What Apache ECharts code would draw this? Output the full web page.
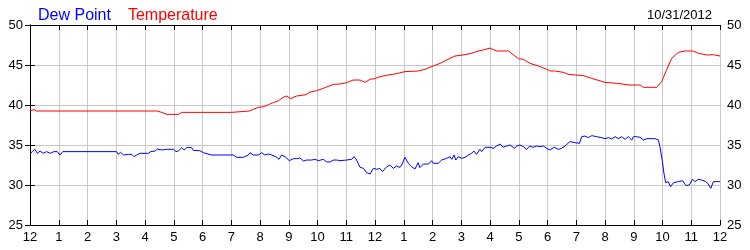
<!DOCTYPE html>
<html>
<head>
<meta charset="utf-8">
<script src="https://cdn.jsdelivr.net/npm/echarts@6/dist/echarts.min.js"></script>
<style>html,body{margin:0;padding:0;background:#fff}#c{width:750px;height:250px}</style>
</head>
<body>
<div id="c"></div>
<script>
var hourLabels = ['12','1','2','3','4','5','6','7','8','9','10','11','12','1','2','3','4','5','6','7','8','9','10','11','12'];
var yTicks = [25, 30, 35, 40, 45, 50];
var dateLabel = '10/31/2012';

var tempHours = [0,0.14,0.23,4.41,4.58,4.75,5.16,5.28,7.01,7.07,7.63,7.77,7.94,8.12,8.29,8.46,8.64,8.81,8.93,9.07,9.27,9.6,9.74,9.97,10.2,10.55,10.78,11.01,11.24,11.48,11.65,11.83,12.0,12.17,12.46,12.7,13.04,13.51,13.74,14.03,14.26,14.49,14.78,15.13,15.36,15.59,15.77,16.0,16.23,16.64,16.99,17.16,17.39,17.68,17.97,18.09,18.26,18.55,18.73,19.25,19.54,20.0,20.41,20.87,21.22,21.33,21.8,21.97,22.14,22.32,22.55,22.78,23.07,23.25,23.54,23.77,24.0];
var tempValues = [39.25,39.42,39.25,39.25,39.08,38.83,38.83,39.08,39.08,39.25,39.25,39.46,39.7,39.79,40.04,40.29,40.54,40.96,41.12,40.79,41.12,41.29,41.62,41.79,42.08,42.58,42.62,42.79,43.12,43.12,42.83,43.21,43.3,43.54,43.75,43.88,44.17,44.25,44.46,44.88,45.2,45.62,46.12,46.29,46.46,46.75,46.88,47.12,46.75,46.75,45.79,45.71,45.2,44.88,44.46,44.25,44.25,44.08,43.83,43.67,43.33,42.83,42.71,42.5,42.5,42.21,42.21,42.92,44.38,45.83,46.58,46.75,46.75,46.46,46.25,46.29,46.12];

var dewHours = [0,0.09,0.17,0.26,0.35,0.46,0.58,0.7,0.83,0.95,1.04,1.14,3.01,3.07,3.15,3.25,3.42,3.54,3.62,3.71,3.83,4.12,4.2,4.35,4.43,4.58,4.75,4.99,5.08,5.16,5.28,5.36,5.45,5.62,5.68,5.91,6.03,6.32,7.07,7.19,7.42,7.6,7.65,7.77,7.94,8.06,8.17,8.29,8.41,8.58,8.66,8.75,8.87,9.02,9.16,9.27,9.39,9.51,9.62,9.8,9.91,10.03,10.2,10.32,10.44,10.55,10.67,10.78,11.01,11.19,11.27,11.36,11.48,11.6,11.71,11.83,11.94,12.06,12.17,12.26,12.41,12.52,12.64,12.75,12.87,12.93,13.04,13.16,13.27,13.39,13.5,13.56,13.68,13.86,13.97,14.03,14.2,14.32,14.49,14.61,14.67,14.75,14.81,14.9,15.02,15.13,15.25,15.36,15.44,15.53,15.65,15.71,15.83,16.0,16.12,16.23,16.35,16.46,16.58,16.7,16.75,16.85,16.93,17.04,17.16,17.27,17.39,17.5,17.62,17.74,17.86,17.97,18.09,18.23,18.38,18.49,18.61,18.78,18.96,19.11,19.19,19.3,19.42,19.54,19.71,19.88,20.0,20.12,20.23,20.35,20.46,20.58,20.7,20.81,20.93,20.99,21.1,21.22,21.33,21.45,21.74,21.86,21.91,21.99,22.05,22.11,22.2,22.28,22.38,22.55,22.7,22.82,22.93,23.05,23.13,23.25,23.36,23.51,23.59,23.68,23.77,23.94,24.0];
var dewValues = [33.96,34.17,34.46,33.96,34.25,33.96,34.17,33.96,34.17,34.17,33.75,34.17,34.17,33.83,34.08,33.75,33.83,33.83,33.54,33.75,33.96,33.96,34.17,34.25,34.5,34.38,34.46,34.46,34.17,34.25,34.67,34.38,34.67,34.67,34.33,34.29,34.04,33.75,33.75,33.46,33.46,33.75,34.04,33.75,33.75,34.04,33.75,33.88,33.75,33.46,33.21,33.75,33.54,33.04,33.29,33.29,33.38,33.0,33.12,33.12,33.21,33.04,33.21,32.88,32.88,33.12,33.12,33.04,33.12,33.21,33.54,33.12,32.21,32.08,31.54,31.38,32.08,31.96,32.08,31.67,32.29,32.5,32.08,32.38,32.2,32.5,33.46,32.71,32.29,32.0,32.79,32.17,32.62,32.62,33.04,32.71,32.71,33.12,33.33,33.54,33.2,33.75,33.12,33.54,33.33,33.46,33.75,33.96,34.25,33.83,34.46,34.17,34.71,34.71,34.58,34.88,35.12,34.71,34.88,35.0,35.12,34.58,34.88,35.0,34.79,34.46,34.88,34.71,34.88,34.79,34.88,34.58,34.38,34.71,34.46,34.58,34.88,35.42,35.29,35.21,36.04,36.12,35.92,36.17,36.04,35.92,35.79,35.92,35.75,36.04,35.79,36.04,35.71,36.04,35.62,36.04,36.04,35.96,35.62,35.79,35.79,35.62,34.79,33.12,31.46,30.29,30.42,29.79,30.29,30.42,30.54,29.92,30.0,30.71,30.42,30.71,30.62,30.42,30.12,29.58,30.42,30.42,30.42];

function pairs(xs, ys) { return xs.map(function (x, i) { return [x, ys[i]]; }); }

var FONT = 'Liberation Sans';
var chart = echarts.init(document.getElementById('c'), null, { renderer: 'canvas' });
var xCommon = {
  type: 'value', min: 0, max: 24, interval: 1,
  axisLine: { show: true, lineStyle: { color: '#000', width: 1 } },
  axisTick: { show: true, inside: true, length: 5, lineStyle: { color: '#000' } }
};
var yCommon = {
  type: 'value', min: yTicks[0], max: yTicks[yTicks.length - 1], interval: 5,
  axisLine: { show: true, lineStyle: { color: '#000', width: 1 } },
  axisTick: { show: true, inside: true, length: 5, lineStyle: { color: '#000' } },
  axisLabel: { show: true, margin: 7, color: '#000', fontSize: 13, fontFamily: FONT }
};
chart.setOption({
  animation: false,
  backgroundColor: '#fff',
  title: {
    text: dateLabel, right: 33, top: 4,
    textStyle: { fontSize: 13, fontWeight: 'normal', color: '#000', fontFamily: FONT }
  },
  legend: {
    left: 28, top: 3, icon: 'none', itemWidth: 0, itemHeight: 0, itemGap: 12,
    selectedMode: false,
    textStyle: { fontSize: 16, fontFamily: FONT },
    data: [
      { name: 'Dew Point', textStyle: { color: '#0000ff' } },
      { name: 'Temperature', textStyle: { color: '#ff0000' } }
    ]
  },
  grid: { left: 30, right: 30, top: 25, bottom: 25, containLabel: false, outerBoundsMode: 'none' },
  xAxis: [
    Object.assign({}, xCommon, {
      position: 'bottom',
      splitLine: { show: true, lineStyle: { color: '#c8c8c8', width: 1 } },
      axisLabel: {
        show: true, margin: 6, color: '#000', fontSize: 13, fontFamily: FONT,
        showMinLabel: true, showMaxLabel: true,
        formatter: function (v) { return hourLabels[Math.round(v)]; }
      }
    }),
    Object.assign({}, xCommon, {
      position: 'top',
      splitLine: { show: false },
      axisLabel: { show: false }
    })
  ],
  yAxis: [
    Object.assign({}, yCommon, {
      position: 'left',
      splitLine: { show: true, lineStyle: { color: '#c8c8c8', width: 1 } }
    }),
    Object.assign({}, yCommon, {
      position: 'right',
      splitLine: { show: false }
    })
  ],
  series: [
    {
      name: 'Dew Point', type: 'line', xAxisIndex: 0, yAxisIndex: 0,
      data: pairs(dewHours, dewValues), showSymbol: false, symbol: 'none',
      lineStyle: { color: '#0000ff', width: 1 }, itemStyle: { color: '#0000ff' }, z: 3
    },
    {
      name: 'Temperature', type: 'line', xAxisIndex: 0, yAxisIndex: 0,
      data: pairs(tempHours, tempValues), showSymbol: false, symbol: 'none',
      lineStyle: { color: '#ff0000', width: 1 }, itemStyle: { color: '#ff0000' }, z: 3
    }
  ]
});
</script>
</body>
</html>
